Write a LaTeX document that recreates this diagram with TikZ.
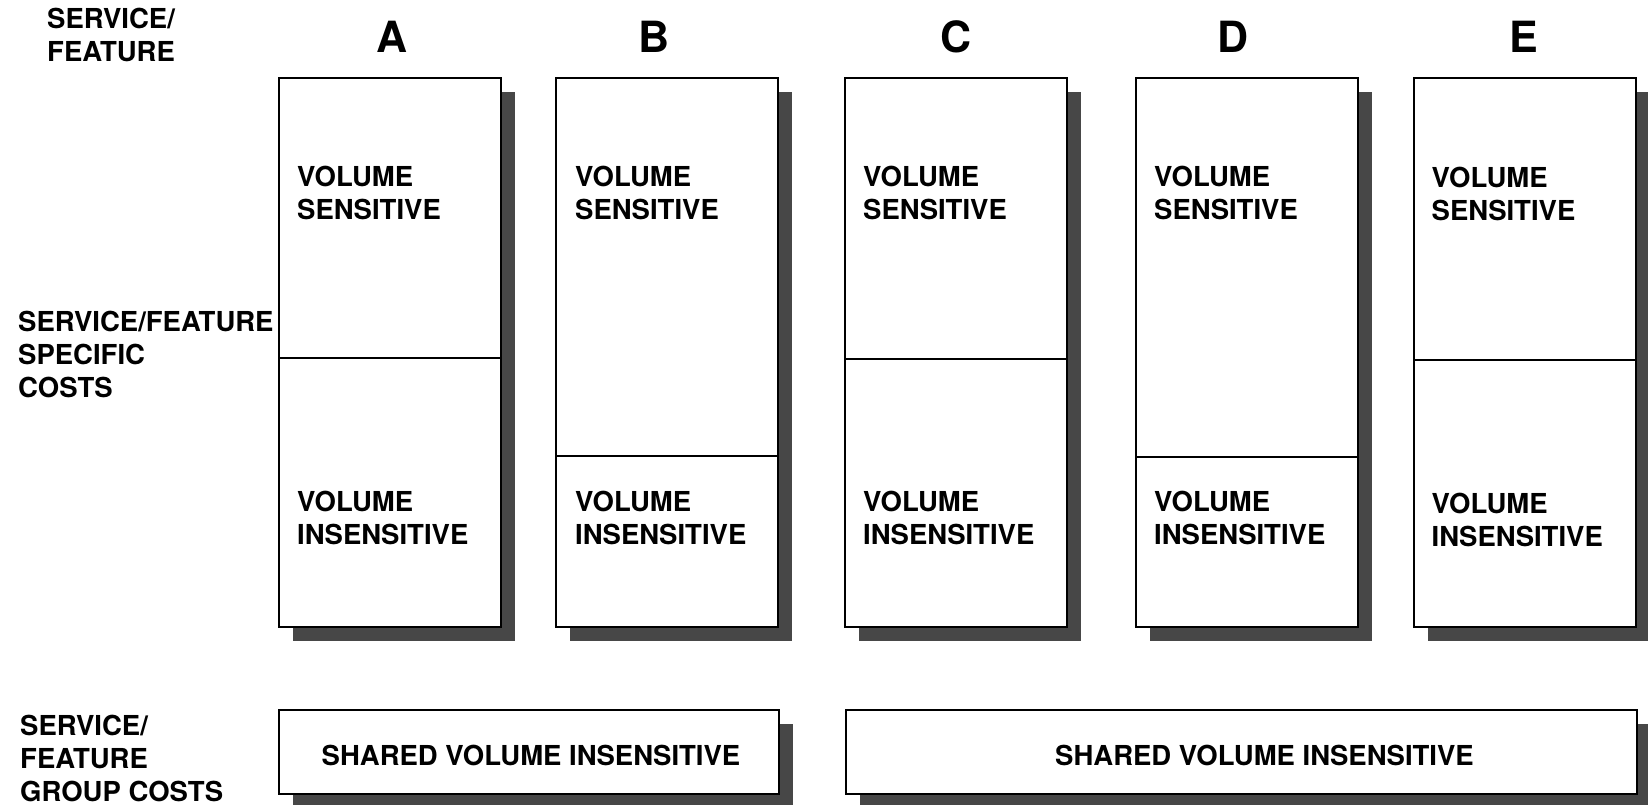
\documentclass[tikz,border=0pt]{standalone}
\usepackage{fontspec}
\setmainfont{TeX Gyre Heros}
\usetikzlibrary{positioning,shadows}

\tikzset{
  lbl/.style={font=\bfseries\fontsize{27.5}{33}\selectfont,inner sep=0pt,align=left},
  head/.style={font=\bfseries\fontsize{43}{43}\selectfont,inner sep=0pt},
  boxed/.style={draw,line width=2pt,fill=white,rectangle,inner sep=0pt,outer sep=0pt,
    general shadow={fill=black!72,shadow xshift=14pt,shadow yshift=-14pt}},
  col/.style={boxed,minimum width=222pt,minimum height=549pt},
  band/.style={boxed,minimum height=84pt},
  split/.style={line width=1.8pt}
}

\begin{document}
\begin{tikzpicture}[x=1pt,y=-1pt]
                \fill[white] (0,0) rectangle (1648,805);
                \useasboundingbox (0,0) rectangle (1648,805);

                % row headings
                \node[lbl,anchor=west] (svc) at (47,35) {SERVICE/\\FEATURE};
                \node[lbl,anchor=west] (specific) at (18,354) {SERVICE/FEATURE\\SPECIFIC\\COSTS};
                \node[lbl,anchor=west] (group) at (20,758) {SERVICE/\\FEATURE\\GROUP COSTS};

                % columns
                \node[col,anchor=north west] (colA) at (279,78) {};
                \node[col] (colB) [right=55pt of colA] {};
                \node[col] (colC) [right=67pt of colB] {};
                \node[col] (colD) [right=69pt of colC] {};
                \node[col] (colE) [right=55.5pt of colD] {};

                \node[head] (hA) at (392,37) {A};
                \node[head] (hB) at (654,37) {B};
                \node[head] (hC) at (956,37) {C};
                \node[head] (hD) at (1233,37) {D};
                \node[head] (hE) at (1524,37) {E};

                \draw[split]
                ([yshift=-280pt]colA.north west) -- ([yshift=-280pt]colA.north east)
                ([yshift=-378pt]colB.north west) -- ([yshift=-378pt]colB.north east)
                ([yshift=-281pt]colC.north west) -- ([yshift=-281pt]colC.north east)
                ([yshift=-379pt]colD.north west) -- ([yshift=-379pt]colD.north east)
                ([yshift=-282pt]colE.north west) -- ([yshift=-282pt]colE.north east);

                \node[lbl,anchor=west] (sensA) at ([xshift=18pt,yshift=-115pt]colA.north west) {VOLUME\\SENSITIVE};
                \node[lbl,anchor=west] (sensB) at ([xshift=19pt,yshift=-115pt]colB.north west) {VOLUME\\SENSITIVE};
                \node[lbl,anchor=west] (sensC) at ([xshift=18pt,yshift=-115pt]colC.north west) {VOLUME\\SENSITIVE};
                \node[lbl,anchor=west] (sensD) at ([xshift=18pt,yshift=-115pt]colD.north west) {VOLUME\\SENSITIVE};
                \node[lbl,anchor=west] (sensE) at ([xshift=18pt,yshift=-116pt]colE.north west) {VOLUME\\SENSITIVE};

                \node[lbl,anchor=west] (insA) at ([xshift=18pt,yshift=-440pt]colA.north west) {VOLUME\\INSENSITIVE};
                \node[lbl,anchor=west] (insB) at ([xshift=19pt,yshift=-440pt]colB.north west) {VOLUME\\INSENSITIVE};
                \node[lbl,anchor=west] (insC) at ([xshift=18pt,yshift=-440pt]colC.north west) {VOLUME\\INSENSITIVE};
                \node[lbl,anchor=west] (insD) at ([xshift=18pt,yshift=-440pt]colD.north west) {VOLUME\\INSENSITIVE};
                \node[lbl,anchor=west] (insE) at ([xshift=18pt,yshift=-442pt]colE.north west) {VOLUME\\INSENSITIVE};

                % shared group costs
                \node[band,anchor=north west,minimum width=500pt] (grp1) at (279,710) {};
                \node[band,anchor=north west,minimum width=791pt] (grp2) at (846,710) {};
                \node[lbl] (shared1) at ([xshift=2pt,yshift=-3pt]grp1.center) {SHARED VOLUME INSENSITIVE};
                \node[lbl] (shared2) at ([xshift=23pt,yshift=-3pt]grp2.center) {SHARED VOLUME INSENSITIVE};
            \end{tikzpicture}
\end{document}
